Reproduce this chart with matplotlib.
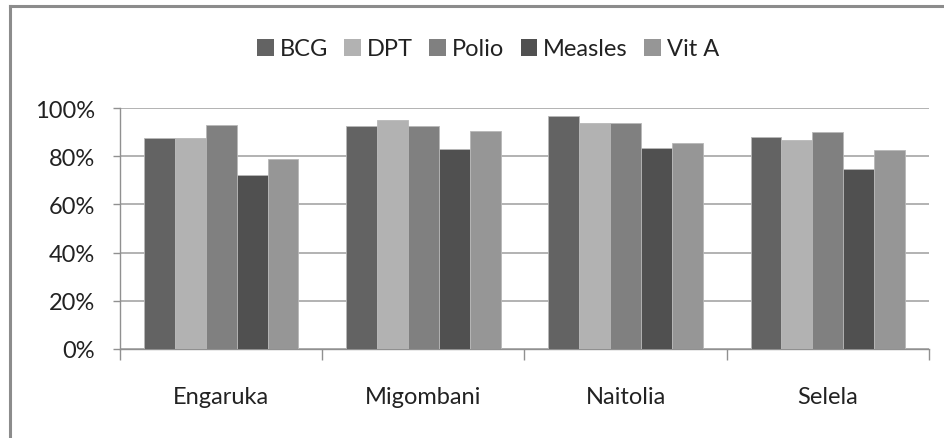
import numpy as np
import matplotlib.pyplot as plt
from matplotlib.patches import Patch
from matplotlib.lines import Line2D

villages = ["Engaruka", "Migombani", "Naitolia", "Selela"]
series = ["BCG", "DPT", "Polio", "Measles", "Vit A"]
bcg = [87.5, 92.6, 96.8, 88.1]
dpt = [87.5, 95.0, 93.9, 86.8]
polio = [92.8, 92.6, 93.9, 89.9]
measles = [72.0, 82.8, 83.6, 74.7]
vit_a = [78.9, 90.4, 85.3, 82.4]
yticks = [0, 20, 40, 60, 80, 100]

colors = ["#636363", "#b2b2b2", "#808080", "#505050", "#969696"]
values = [bcg, dpt, polio, measles, vit_a]

plt.rcParams['font.family'] = ['Lato', 'DejaVu Sans']

W, H = 945, 439
fig = plt.figure(figsize=(W / 100, H / 100), dpi=100)
ax = fig.add_axes([120 / W, 1 - 350 / H, (929 - 120) / W, (350 - 109) / H])

x = np.arange(len(villages))
bw = 0.153
for i, (name, vals) in enumerate(zip(series, values)):
    offs = (i - 2) * bw
    ax.bar(x + offs, np.array(vals) / 100, width=bw, color=colors[i],
           edgecolor="#b8b8b8", linewidth=0.6, label=name, zorder=3)

ax.set_xlim(-0.5, len(villages) - 0.5)
ax.set_ylim(0, 1)
ax.set_yticks([t / 100 for t in yticks])
ax.set_yticklabels([f"{t}%" for t in yticks])
ax.yaxis.grid(True, color="#a6a6a6", linewidth=1.2, zorder=0)

# category boundaries as major ticks, labels at centres
ax.set_xticks(np.arange(len(villages) + 1) - 0.5)
ax.set_xticklabels([])
ax.set_xticks(x, minor=True)
ax.set_xticklabels(villages, minor=True)
ax.tick_params(axis='x', which='major', length=8, color="#909090", width=1)
ax.tick_params(axis='x', which='minor', length=0, pad=27, labelsize=17, labelcolor="#222222")
ax.tick_params(axis='y', length=5, color="#909090", width=1, pad=13, labelsize=17,
               labelcolor="#222222")

for s in ["top", "right"]:
    ax.spines[s].set_visible(False)
for s in ["left", "bottom"]:
    ax.spines[s].set_color("#909090")
    ax.spines[s].set_linewidth(1)

handles = [Patch(facecolor=c, edgecolor="none") for c in colors]
fig.legend(handles, series, loc="center", bbox_to_anchor=(488 / W, 1 - 50 / H),
           ncol=5, frameon=False, fontsize=17, handlelength=0.7, handleheight=0.7,
           handletextpad=0.25, columnspacing=0.7, labelcolor="#222222")

# outer chart border (top and left visible)
fig.add_artist(Line2D([10 / W, 10 / W], [0, 1 - 7 / H], transform=fig.transFigure,
                      color="#8c8c8c", linewidth=2.2))
fig.add_artist(Line2D([10 / W, 1], [1 - 7 / H, 1 - 7 / H], transform=fig.transFigure,
                      color="#8c8c8c", linewidth=2.2))

fig.savefig("out.png", dpi=100)
